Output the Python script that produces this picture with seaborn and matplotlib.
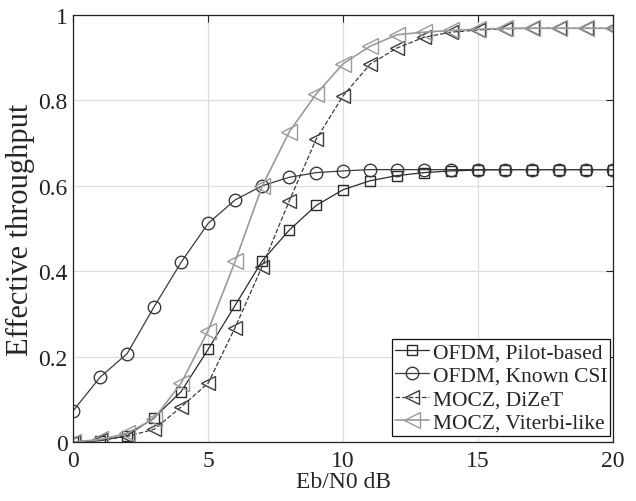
import numpy as np
import pandas as pd
import matplotlib
matplotlib.use("Agg")
import matplotlib.pyplot as plt
import seaborn as sns

# 数据
ebn0 = list(range(0, 21))
pilot_based = [0.0, 0.003, 0.015, 0.057, 0.118, 0.217, 0.32, 0.424, 0.496, 0.554, 0.591,
               0.612, 0.624, 0.631, 0.635, 0.637, 0.638, 0.638, 0.638, 0.638, 0.638]
known_csi = [0.073, 0.152, 0.207, 0.317, 0.421, 0.512, 0.567, 0.6, 0.62, 0.631, 0.635,
             0.638, 0.638, 0.638, 0.638, 0.638, 0.638, 0.638, 0.638, 0.638, 0.638]
dizet = [0.0, 0.004, 0.013, 0.03, 0.082, 0.138, 0.268, 0.411, 0.564, 0.709, 0.811,
         0.885, 0.923, 0.948, 0.96, 0.965, 0.968, 0.969, 0.969, 0.969, 0.969]
viterbi = [0.0, 0.006, 0.02, 0.055, 0.138, 0.261, 0.423, 0.599, 0.726, 0.815, 0.886,
           0.927, 0.954, 0.96, 0.964, 0.967, 0.969, 0.969, 0.969, 0.969, 0.969]

labels = ['OFDM, Pilot-based', 'OFDM, Known CSI', 'MOCZ, DiZeT', 'MOCZ, Viterbi-like']
series = [pilot_based, known_csi, dizet, viterbi]

df = pd.DataFrame({
    'x': ebn0 * 4,
    'y': sum(series, []),
    'method': sum([[l] * len(ebn0) for l in labels], []),
})

sns.set_style("white")
plt.rcParams['font.family'] = ['Liberation Serif', 'DejaVu Serif']

fig = plt.figure(figsize=(6.36, 5.02), dpi=100)
ax = fig.add_axes([0.115, 0.1175, 0.849, 0.8505])

styles = {
    'OFDM, Pilot-based': dict(color='#2b2b2b', marker='s', ls='-', ms=7, lw=0.9),
    'OFDM, Known CSI': dict(color='#3a3a3a', marker='o', ls='-', ms=9, lw=0.9),
    'MOCZ, DiZeT': dict(color='#3c3c3c', marker='<', ls='--', ms=10, lw=0.9),
    'MOCZ, Viterbi-like': dict(color='#9a9a9a', marker='<', ls='-', ms=11, lw=1.2),
}

for lab in labels:
    st = styles[lab]
    sns.lineplot(data=df[df['method'] == lab], x='x', y='y', ax=ax, label=lab,
                 color=st['color'], linestyle=st['ls'], linewidth=st['lw'],
                 marker=st['marker'], markersize=st['ms'], markerfacecolor='none',
                 markeredgecolor=st['color'], markeredgewidth=1.0)

ax.set_xlim(0, 20)
ax.set_ylim(0, 1)
ax.set_xticks([0, 5, 10, 15, 20])
ax.set_yticks([0, 0.2, 0.4, 0.6, 0.8, 1])
ax.set_yticklabels(['0', '0.2', '0.4', '0.6', '0.8', '1'])
ax.grid(True, color='#dcdcdc', linewidth=0.9)
ax.tick_params(direction='in', top=True, right=True, labelsize=17, length=5,
               width=0.8, colors='#222222')
ax.tick_params(axis='x', pad=6)
ax.tick_params(axis='y', pad=4)
for sp in ax.spines.values():
    sp.set_color('#222222')
    sp.set_linewidth(0.9)

ax.set_xlabel('Eb/N0 dB', fontsize=17, labelpad=0)
ax.set_ylabel('Effective throughput', fontsize=22, labelpad=2)

leg = ax.legend(loc='lower right', bbox_to_anchor=(0.995, 0.015), fontsize=15.5,
                frameon=True, fancybox=False, edgecolor='#111111', framealpha=1,
                borderpad=0.15, labelspacing=0.15, handlelength=1.6,
                handletextpad=0.15, borderaxespad=0.0)
leg.get_frame().set_linewidth(0.9)

fig.savefig('out.png', dpi=100)
